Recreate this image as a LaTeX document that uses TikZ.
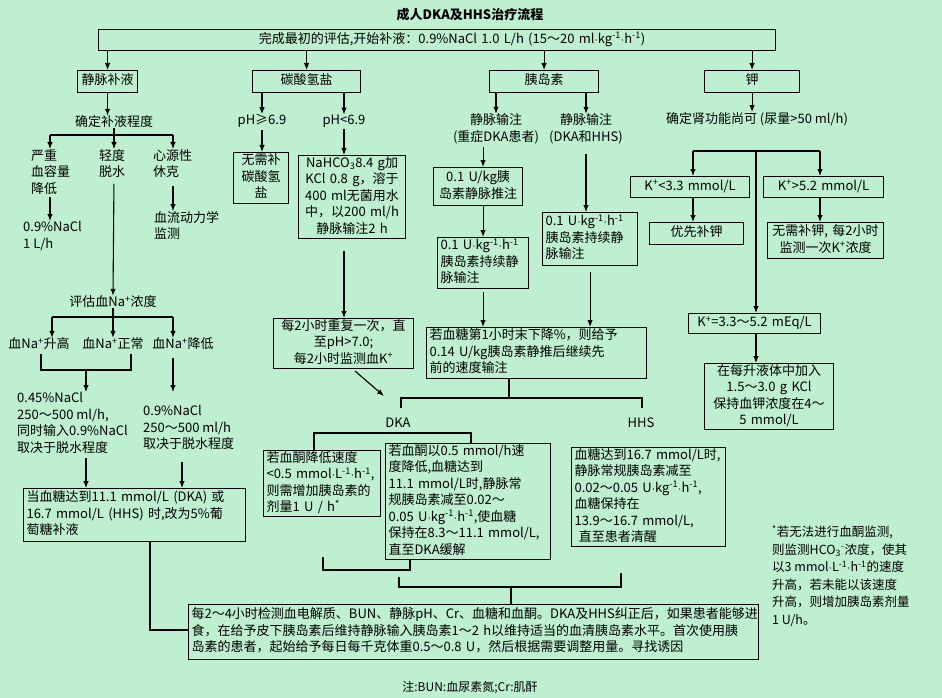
\documentclass[tikz,border=0pt]{standalone}
\usepackage{fontspec}
\setmainfont{Noto Sans CJK SC}
\usetikzlibrary{arrows.meta}
\definecolor{bg}{RGB}{190,239,208}
\newcommand\sps[1]{\textsuperscript{#1}}
\newcommand\md{\ensuremath{{\cdot}}}
\newcommand\tl[1]{\begin{tabular}{@{}l@{}}#1\end{tabular}}
\newcommand\tc[1]{\begin{tabular}{@{}c@{}}#1\end{tabular}}
\newcommand\bx[7]{%
  \pgfmathsetmacro\bxw{#4-#2-6}%
  \pgfmathsetmacro\bxh{#5-#3}%
  \node[bxs, text width=\bxw pt, minimum height=\bxh pt, align=#6] (#1) at (#2,#3) {#7};}
\tikzset{
  bxs/.style={draw, line width=1.1pt, inner xsep=3pt, inner ysep=0pt, anchor=north west},
  tx/.style={inner sep=0pt, align=left},
  arr/.style={line width=1.1pt, -{Latex[length=7pt,width=5.5pt]}},
  ln/.style={line width=1.1pt},
}
\begin{document}
\begin{tikzpicture}[x=1pt,y=-1pt,font=\fontsize{13}{16.5}\selectfont]
\fill[bg] (0,0) rectangle (942,698);
\useasboundingbox (0,0) rectangle (942,698);

% title and top box
\node[tx, font=\fontsize{13}{16}\selectfont\bfseries] (title) at (470,15) {成人DKA及HHS治疗流程};
\bx{start}{98}{29}{775}{50}{center}{\tc{\hspace*{30pt}完成最初的评估,开始补液：0.9\%NaCl 1.0 L/h (15～20 ml\md kg\sps{-1}\md h\sps{-1})}}

% second row
\bx{jm}{77}{70}{137}{92}{center}{\tc{静脉补液}}
\bx{tsq}{252}{70}{360}{92}{center}{\tc{碳酸氢盐}}
\bx{yds}{489}{70}{598}{92}{center}{\tc{胰岛素}}
\bx{k}{704}{70}{799}{92}{center}{\tc{钾}}
\draw[arr] (start.south -| jm.north) -- (jm.north);
\draw[arr] (start.south -| tsq.north) -- (tsq.north);
\draw[arr] (start.south -| yds.north) -- (yds.north);
\draw[arr] (start.south -| k.north) -- (k.north);

% ---------- column 1 ----------
\node[tx] (qd) at (114,122) {确定补液程度};
\draw[arr] (jm.south) -- (jm.south |- qd.north);
\coordinate (q0) at (114,135);
\coordinate (ql) at (50,135);
\coordinate (qr) at (173,135);
\node[tx, anchor=north west] (s1) at (31,149) {严重\\血容量\\降低};
\node[tx, anchor=north west] (s2) at (99,149) {轻度\\脱水};
\node[tx, anchor=north west] (s3) at (153,149) {心源性\\休克};
\draw[ln] (qd.south) -- (q0);
\draw[ln] (ql) -- (qr);
\draw[arr] (ql) -- (ql |- s1.north);
\draw[arr] (q0) -- (q0 |- s2.north);
\draw[arr] (qr) -- (qr |- s3.north);
\node[tx, anchor=north west] (nacl) at (23,221) {0.9\%NaCl\\1 L/h};
\draw[arr, shorten <=3pt] (ql |- s1.south) -- (ql |- nacl.north);
\node[tx, anchor=north west] (xl) at (154,211) {血流动力学\\监测};
\draw[arr, shorten <=8pt] (qr |- s3.south) -- (qr |- xl.north);
\node[tx] (pg) at (113,302) {评估血Na\sps{+}浓度};
\draw[arr, shorten <=6pt] (q0 |- s2.south) -- (pg.north);
\coordinate (p0) at (113,317);
\coordinate (pl) at (52,317);
\coordinate (pr) at (173,317);
\node[tx] (n1) at (39,344) {血Na\sps{+}升高};
\node[tx] (n2) at (113,344) {血Na\sps{+}正常};
\node[tx] (n3) at (183,344) {血Na\sps{+}降低};
\draw[ln] (pg.south) -- (p0);
\draw[ln] (pl) -- (pr);
\draw[arr] (pl) -- (pl |- n1.north);
\draw[arr] (p0) -- (p0 |- n2.north);
\draw[arr] (pr) -- (pr |- n3.north);
\coordinate (c1) at (41,354);
\coordinate (c1b) at (41,370);
\coordinate (c2b) at (131,370);
\coordinate (c2) at (131,354);
\coordinate (c0) at (86,370);
\coordinate (c3) at (173,358);
\coordinate (c4) at (182,462);
\draw[ln] (c1) -- (c1b) -- (c2b) -- (c2);
\node[tx, anchor=north west] (d1) at (17,392) {0.45\%NaCl\\250～500 ml/h,\\同时输入0.9\%NaCl\\取决于脱水程度};
\node[tx, anchor=north west] (d2) at (143,405) {0.9\%NaCl\\250～500 ml/h\\取决于脱水程度};
\draw[arr] (c0) -- (c0 |- d1.north);
\draw[arr, shorten >=13pt] (c3) -- (c3 |- d2.north);
\bx{g5}{23}{488}{245}{541}{left}{\tl{当血糖达到11.1 mmol/L (DKA) 或\\16.7 mmol/L (HHS) 时,改为5\%葡\\萄糖补液}}
\draw[arr, shorten <=5pt] (c0 |- d1.south) -- (c0 |- g5.north);
\draw[arr] (c4) -- (c4 |- g5.north);

% ---------- column 2 ----------
\node[tx] (ph1) at (262,121) {pH≥6.9};
\node[tx] (ph2) at (344,121) {pH<6.9};
\draw[arr] (tsq.south -| ph1.north) -- (ph1.north);
\draw[arr] (tsq.south -| ph2.north) -- (ph2.north);
\bx{nb}{233}{152}{288}{203}{center}{\tc{无需补\\碳酸氢\\盐}}
\bx{nah}{298}{155}{405}{238}{center}{\tc{NaHCO\textsubscript{3}8.4 g加\\KCl 0.8 g，溶于\\400 ml无菌用水\\中，以200 ml/h\\静脉输注2 h}}
\draw[arr, shorten <=2pt] (ph1.south) -- (ph1.south |- nb.north);
\draw[arr, shorten <=2pt] (ph2.south) -- (ph2.south |- nah.north);
\bx{rep}{273}{318}{413}{368}{center}{\tc{每2小时重复一次，直\\至pH>7.0;\\每2小时监测血K\sps{+}}}
\draw[arr, shorten <=12pt] (nah.south -| ph2.south) -- (rep.north -| ph2.south);
\coordinate (dg0) at (355,371);
\coordinate (dg1) at (384,396);
\draw[arr] (dg0) -- (dg1);

% ---------- column 3 ----------
\node[tx, align=center] (iv1) at (496,129) {静脉输注\\(重症DKA患者)};
\node[tx, align=center] (iv2) at (586,129) {静脉输注\\(DKA和HHS)};
\draw[arr] (yds.south -| iv1.north) -- (iv1.north);
\draw[arr] (yds.south -| iv2.north) -- (iv2.north);
\bx{a1}{433}{167}{522}{205}{center}{\tc{0.1 U/kg胰\\岛素静脉推注}}
\bx{a2}{437}{237}{528}{288}{left}{\tl{0.1 U\md kg\sps{-1}\md h\sps{-1}\\胰岛素持续静\\脉输注}}
\bx{a3}{542}{212}{637}{265}{left}{\tl{0.1 U\md kg\sps{-1}\md h\sps{-1}\\胰岛素持续静\\脉输注}}
\bx{a4}{426}{327}{646}{378}{left}{\tl{若血糖第1小时末下降\%，则给予\\0.14 U/kg胰岛素静推后继续先\\前的速度输注}}
\draw[arr, shorten <=3pt] (iv1.south -| a2.north) -- (a1.north -| a2.north);
\draw[arr] (a1.south -| a2.north) -- (a2.north);
\draw[arr, shorten <=10pt] (iv2.south) -- (iv2.south |- a3.north);
\draw[arr, shorten <=3pt] (a2.south) -- (a2.south |- a4.north);
\draw[arr, shorten <=6pt] (a3.south) -- (a3.south |- a4.north);

% DKA / HHS split
\coordinate (br1c) at (509,398);
\coordinate (br1l) at (401,398);
\coordinate (br1r) at (642,398);
\coordinate (br1ld) at (401,408);
\coordinate (br1rd) at (642,408);
\draw[ln] (a4.south -| br1c) -- (br1c);
\draw[ln] (br1ld) -- (br1l) -- (br1r) -- (br1rd);
\node[tx] (dka) at (398,423) {DKA};
\node[tx] (hhs) at (641,423) {HHS};
\bx{kd1}{263}{450}{380}{513}{left}{\tl{若血酮降低速度\\<0.5 mmol\md L\sps{-1}\md h\sps{-1},\\则需增加胰岛素的\\剂量1 U / h\sps{*}}}
\bx{kd2}{385}{443}{550}{556}{left}{\tl{若血酮以0.5 mmol/h速\\度降低,血糖达到\\11.1 mmol/L时,静脉常\\规胰岛素减至0.02～\\0.05 U\md kg\sps{-1}\md h\sps{-1},使血糖\\保持在8.3～11.1 mmol/L,\\直至DKA缓解}}
\bx{hh}{571}{447}{725}{545}{left}{\tl{血糖达到16.7 mmol/L时,\\静脉常规胰岛素减至\\0.02～0.05 U\md kg\sps{-1}\md h\sps{-1},\\血糖保持在\\13.9～16.7 mmol/L,\\\ 直至患者清醒}}
\coordinate (b2l) at (314,433);
\coordinate (b2r) at (471,433);
\draw[ln] (kd1.north -| b2l) -- (b2l) -- (b2r) -- (kd2.north -| b2r);

% bottom brackets
\coordinate (b3a) at (323,557);
\coordinate (b3b) at (323,570);
\coordinate (b3c) at (410,570);
\draw[ln] (b3a) -- (b3b) -- (b3c) -- (kd2.south -| b3c);
\coordinate (b4a) at (399,577);
\coordinate (b4b) at (399,587);
\coordinate (b4c) at (621,587);
\coordinate (b4d) at (621,573);
\coordinate (b4m) at (511,587);
\draw[ln] (b4a) -- (b4b) -- (b4c) -- (b4d);
\bx{bot}{188}{604}{758}{659}{left}{\tl{每2～4小时检测血电解质、BUN、静脉pH、Cr、血糖和血酮。DKA及HHS纠正后，如果患者能够进\\食，在给予皮下胰岛素后维持静脉输入胰岛素1～2 h以维持适当的血清胰岛素水平。首次使用胰\\岛素的患者，起始给予每日每千克体重0.5～0.8 U，然后根据需要调整用量。寻找诱因}}
\draw[ln] (b4m) -- (bot.north -| b4m);
\coordinate (b5) at (150,630);
\draw[ln] (g5.south -| b5) -- (b5) -- (b5 -| bot.west);

% ---------- column 4 ----------
\node[tx] (kq) at (757,119) {确定肾功能尚可 (尿量>50 ml/h)};
\draw[arr] (k.south) -- (k.south |- kq.north);
\coordinate (kb) at (756,151);
\coordinate (kbl) at (693,151);
\coordinate (kbr) at (820,151);
\bx{kl}{630}{176}{749}{197}{center}{\tc{K\sps{+}<3.3 mmol/L}}
\bx{kh}{763}{176}{883}{197}{center}{\tc{K\sps{+}>5.2 mmol/L}}
\bx{yx}{649}{222}{743}{244}{center}{\tc{优先补钾}}
\bx{wx}{767}{222}{883}{258}{center}{\tc{无需补钾, 每2小时\\监测一次K\sps{+}浓度}}
\bx{k3}{688}{313}{820}{333}{center}{\tc{K\sps{+}=3.3～5.2 mEq/L}}
\bx{kcl}{704}{363}{833}{429}{center}{\tc{在每升液体中加入\\1.5～3.0 g KCl\\保持血钾浓度在4～\\5 mmol/L}}
\draw[ln] (kbl) -- (kbr);
\draw[arr] (kbl) -- (kl.north -| kbl);
\draw[arr] (kbr) -- (kh.north -| kbr);
\draw[arr] (kb) -- (k3.north -| kb);
\draw[arr] (kl.south -| kbl) -- (yx.north -| kbl);
\draw[arr] (kh.south -| kbr) -- (wx.north -| kbr);
\draw[arr] (k3.south -| kb) -- (kcl.north -| kb);

% footnote
\node[tx, anchor=north west, font=\fontsize{12.5}{17.5}\selectfont] (fn) at (772,525) {\sps{*}若无法进行血酮监测,\\则监测HCO\textsubscript{3}\sps{-}浓度，使其\\以3 mmol\md L\sps{-1}\md h\sps{-1}的速度\\升高，若未能以该速度\\升高，则增加胰岛素剂量\\1 U/h。};

\node[tx, font=\fontsize{12}{14}\selectfont] (zhu) at (470,688) {注:BUN:血尿素氮;Cr:肌酐};
\end{tikzpicture}
\end{document}
